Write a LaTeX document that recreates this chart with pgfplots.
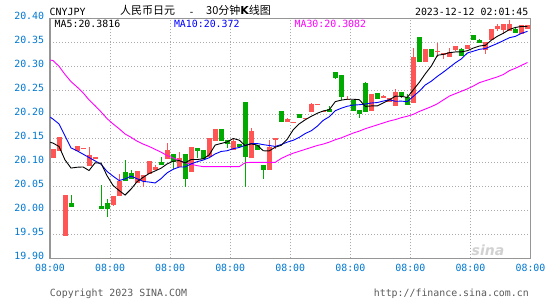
\documentclass[border=0pt]{standalone}
\usepackage{pgfplots}
\pgfplotsset{compat=1.18}
\usepackage{pgfplotstable}
\usepackage{fontspec}
\setmonofont{DejaVu Sans Mono}
\newfontfamily\cjk{Noto Sans CJK SC}
\newfontfamily\djsans{DejaVu Sans}
\newcommand\mono{\ttfamily\fontsize{9.9}{12}\selectfont}

\definecolor{upred}{RGB}{255,85,85}
\definecolor{dngreen}{RGB}{0,170,0}
\definecolor{ticklbl}{RGB}{0,120,210}
\definecolor{gridc}{RGB}{170,170,170}
\definecolor{framec}{RGB}{150,150,150}
\definecolor{footc}{RGB}{90,90,90}
\definecolor{ma10c}{RGB}{0,0,255}
\definecolor{ma30c}{RGB}{255,0,255}

% up (red) candles: x open close high low
\pgfplotstableread{
x o c h l
0 20.110 20.126 20.126 20.110
1 20.124 20.151 20.151 20.124
2 19.947 20.030 20.030 19.947
4 20.124 20.134 20.134 20.124
5 20.129 20.129 20.129 20.129
6 20.093 20.114 20.131 20.093
7 20.110 20.110 20.110 20.110
10 20.012 20.028 20.028 20.010
11 20.030 20.061 20.076 20.030
14 20.057 20.080 20.080 20.057
15 20.062 20.073 20.073 20.049
16 20.076 20.101 20.101 20.076
17 20.084 20.090 20.095 20.084
19 20.108 20.124 20.141 20.108
21 20.092 20.108 20.122 20.092
23 20.081 20.130 20.130 20.081
26 20.113 20.149 20.149 20.113
27 20.1465 20.169 20.169 20.145
30 20.126 20.144 20.148 20.126
33 20.110 20.165 20.172 20.110
36 20.085 20.131 20.147 20.085
37 20.1465 20.150 20.150 20.127
39 20.185 20.190 20.192 20.185
40 20.183 20.183 20.183 20.183
42 20.192 20.192 20.192 20.192
43 20.206 20.2215 20.223 20.206
44 20.2215 20.2215 20.2215 20.2215
45 20.207 20.207 20.207 20.207
49 20.231 20.231 20.238 20.231
53 20.209 20.242 20.242 20.209
55 20.235 20.238 20.240 20.235
56 20.227 20.232 20.232 20.227
57 20.219 20.245 20.253 20.219
60 20.225 20.318 20.3375 20.225
62 20.310 20.334 20.336 20.310
64 20.332 20.332 20.349 20.320
65 20.3236 20.327 20.327 20.316
66 20.320 20.328 20.3375 20.320
67 20.3347 20.3417 20.3417 20.331
69 20.337 20.344 20.344 20.337
72 20.336 20.349 20.349 20.3257
73 20.355 20.376 20.376 20.355
74 20.3785 20.384 20.3875 20.3736
75 20.376 20.387 20.387 20.368
76 20.374 20.388 20.3965 20.374
78 20.369 20.386 20.386 20.369
79 20.379 20.384 20.384 20.379
}\upTable

% down (green) candles
\pgfplotstableread{
x o c h l
3 20.015 20.0075 20.032 20.0075
8 20.009 20.0035 20.053 20.0035
9 20.0146 20.0035 20.023 19.987
12 20.078 20.063 20.105 20.061
13 20.077 20.066 20.085 20.066
18 20.099 20.095 20.112 20.095
20 20.117 20.101 20.117 20.0854
22 20.117 20.066 20.117 20.049
24 20.128 20.124 20.128 20.110
25 20.124 20.108 20.124 20.108
28 20.169 20.1465 20.169 20.1465
29 20.1465 20.1396 20.1465 20.130
31 20.138 20.132 20.138 20.132
32 20.224 20.112 20.224 20.048
34 20.135 20.126 20.135 20.126
35 20.094 20.085 20.094 20.066
38 20.205 20.185 20.205 20.185
41 20.199 20.193 20.199 20.193
46 20.210 20.206 20.217 20.206
47 20.288 20.276 20.288 20.274
48 20.280 20.237 20.280 20.2306
50 20.229 20.207 20.229 20.207
51 20.209 20.201 20.209 20.193
52 20.264 20.206 20.267 20.206
54 20.244 20.232 20.244 20.232
58 20.2465 20.240 20.2465 20.233
59 20.235 20.221 20.2417 20.221
61 20.361 20.310 20.361 20.310
63 20.336 20.321 20.336 20.321
68 20.336 20.322 20.339 20.322
70 20.365 20.355 20.365 20.355
71 20.354 20.349 20.3576 20.349
77 20.377 20.370 20.380 20.370
}\downTable

% moving averages: x ma5 ma10 ma30
\pgfplotstableread{
x ma5 ma10 ma30
-0.45 20.1417 20.194 20.313
0 20.140 20.190 20.312
1 20.133 20.180 20.300
2 20.105 20.155 20.283
3 20.088 20.130 20.268
4 20.0897 20.124 20.257
5 20.0903 20.117 20.245
6 20.0829 20.110 20.230
7 20.0989 20.103 20.218
8 20.0981 20.096 20.205
9 20.0720 20.0809 20.191
10 20.0518 20.0711 20.180
11 20.0412 20.0621 20.170
12 20.0318 20.0654 20.159
13 20.0443 20.0712 20.152
14 20.0596 20.0658 20.144
15 20.0686 20.0602 20.138
16 20.0766 20.0589 20.133
17 20.0820 20.0569 20.127
18 20.0878 20.0661 20.121
19 20.0966 20.0781 20.114
20 20.1022 20.0854 20.109
21 20.1036 20.0901 20.104
22 20.0988 20.0904 20.099
23 20.1058 20.0968 20.096
24 20.1058 20.1012 20.093
25 20.1072 20.1047 20.091
26 20.1154 20.1095 20.091
27 20.1360 20.1174 20.091
28 20.1393 20.1226 20.091
29 20.1424 20.1241 20.091
30 20.1496 20.1284 20.091
31 20.1462 20.1308 20.091
32 20.1348 20.1354 20.099
33 20.1385 20.1389 20.100
34 20.1358 20.1391 20.100
35 20.1240 20.1368 20.100
36 20.1238 20.1350 20.100
37 20.1314 20.1331 20.100
38 20.1354 20.1370 20.108
39 20.1482 20.1420 20.114
40 20.1678 20.1459 20.119
41 20.1802 20.1520 20.123
42 20.1886 20.1600 20.127
43 20.1959 20.1657 20.131
44 20.2022 20.1752 20.135
45 20.2070 20.1874 20.138
46 20.2096 20.1949 20.142
47 20.2264 20.2075 20.147
48 20.2295 20.2127 20.151
49 20.2314 20.2168 20.156
50 20.2314 20.2192 20.161
51 20.2304 20.2200 20.165
52 20.2164 20.2214 20.170
53 20.2174 20.2235 20.174
54 20.2176 20.2245 20.178
55 20.2238 20.2276 20.182
56 20.2300 20.2302 20.186
57 20.2378 20.2271 20.189
58 20.2374 20.2274 20.193
59 20.2352 20.2264 20.196
60 20.2512 20.2375 20.200
61 20.2668 20.2484 20.206
62 20.2846 20.2612 20.211
63 20.3008 20.2691 20.216
64 20.3230 20.2791 20.222
65 20.3248 20.2880 20.230
66 20.3284 20.2976 20.238
67 20.3299 20.3073 20.243
68 20.3301 20.3155 20.248
69 20.3325 20.3278 20.253
70 20.3381 20.3315 20.259
71 20.3423 20.3354 20.266
72 20.3438 20.3369 20.270
73 20.3546 20.3424 20.274
74 20.3626 20.3476 20.278
75 20.3690 20.3536 20.283
76 20.3768 20.3596 20.291
77 20.3810 20.3624 20.296
78 20.3830 20.3688 20.302
79 20.3830 20.3728 20.308
}\maTable

\begin{document}
\begin{tikzpicture}
\useasboundingbox (0pt,0pt) rectangle (545pt,300pt);
\begin{axis}[
  at={(50pt,41.7pt)}, anchor=south west,
  scale only axis, width=480.5pt, height=240pt,
  xmin=-0.5, xmax=79.5, ymin=19.90, ymax=20.40,
  xtick={-0.5,9.5,19.5,29.5,39.5,49.5,59.5,69.5,79.5},
  xticklabels={08:00,08:00,08:00,08:00,08:00,08:00,08:00,08:00,08:00},
  ytick={19.90,19.95,20.00,20.05,20.10,20.15,20.20,20.25,20.30,20.35,20.40},
  yticklabels={19.90,19.95,20.00,20.05,20.10,20.15,20.20,20.25,20.30,20.35,20.40},
  major tick length=0pt,
  grid=major,
  grid style={gridc, line width=1pt, dash pattern=on 1pt off 2pt},
  axis line style={framec, line width=1.4pt},
  tick label style={font=\mono, text=ticklbl},
  xticklabel style={anchor=base, inner sep=0pt, yshift=-13.2pt},
  yticklabel style={anchor=base east, inner sep=0pt, xshift=-5.7pt, yshift=-1.4pt},
]
% wicks
\addplot[draw=none, mark=none, forget plot,
  error bars/.cd, y dir=both, y explicit, error mark=none,
  error bar style={draw=upred, line width=1pt}]
  table[x=x, y=o, y error plus expr=\thisrow{h}-\thisrow{o}, y error minus expr=\thisrow{o}-\thisrow{l}] {\upTable};
\addplot[draw=none, mark=none, forget plot,
  error bars/.cd, y dir=both, y explicit, error mark=none,
  error bar style={draw=dngreen, line width=1pt}]
  table[x=x, y=o, y error plus expr=\thisrow{h}-\thisrow{o}, y error minus expr=\thisrow{o}-\thisrow{l}] {\downTable};
% bodies
\addplot[draw=none, mark=none, forget plot,
  error bars/.cd, y dir=both, y explicit, error mark=none,
  error bar style={draw=upred, line width=5pt}]
  table[x=x, y expr=(\thisrow{o}+\thisrow{c})/2, y error expr=abs(\thisrow{c}-\thisrow{o})/2+0.001] {\upTable};
\addplot[draw=none, mark=none, forget plot,
  error bars/.cd, y dir=both, y explicit, error mark=none,
  error bar style={draw=dngreen, line width=5pt}]
  table[x=x, y expr=(\thisrow{o}+\thisrow{c})/2, y error expr=abs(\thisrow{c}-\thisrow{o})/2+0.001] {\downTable};
% moving averages
\addplot[ma30c, line width=0.9pt, mark=none] table[x=x, y=ma30] {\maTable};
\addplot[ma10c, line width=0.9pt, mark=none] table[x=x, y=ma10] {\maTable};
\addplot[black, line width=0.9pt, mark=none] table[x=x, y=ma5] {\maTable};
\end{axis}
% header
\node[anchor=base west, inner sep=0pt, font=\mono] at (49.5pt,284.4pt) {CNYJPY};
\node[anchor=base west, inner sep=0pt, font=\cjk\fontsize{11}{13}\selectfont] at (120pt,285.2pt) {人民币日元};
\node[anchor=base, inner sep=0pt, font=\mono] at (191.5pt,284.4pt) {-};
\node[anchor=base west, inner sep=0pt, font=\cjk\fontsize{11}{13}\selectfont] at (206pt,285.2pt) {30分钟{\djsans\bfseries K}线图};
\node[anchor=base east, inner sep=0pt, font=\mono] at (528.5pt,284.4pt) {2023-12-12 02:01:45};
% legend
\node[anchor=base west, inner sep=0pt, font=\mono, text=black] at (54.5pt,272.2pt) {MA5:20.3816};
\node[anchor=base west, inner sep=0pt, font=\mono, text=ma10c] at (173.8pt,272.2pt) {MA10:20.372};
\node[anchor=base west, inner sep=0pt, font=\mono, text=ma30c] at (294.4pt,272.2pt) {MA30:20.3082};
% watermark
\node[anchor=center, inner sep=0pt, font=\djsans\bfseries\itshape\fontsize{14}{16}\selectfont, text=black!18] at (488pt,50pt) {sina};
% footer
\node[anchor=base west, inner sep=0pt, font=\mono, text=footc] at (49.7pt,3.5pt) {Copyright 2023 SINA.COM};
\node[anchor=base east, inner sep=0pt, font=\mono, text=footc] at (529pt,3.5pt) {http://finance.sina.com.cn};
\end{tikzpicture}
\end{document}
